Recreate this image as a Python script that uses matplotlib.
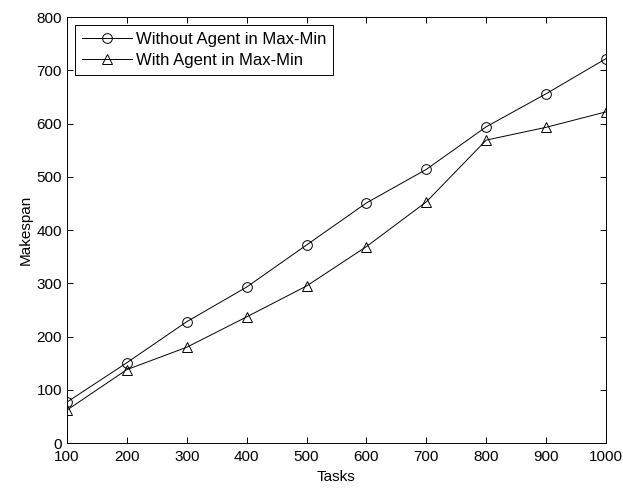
import matplotlib
matplotlib.use("Agg")
import matplotlib.pyplot as plt

plt.rcParams["font.family"] = ["Liberation Sans", "DejaVu Sans"]

tasks = [100, 200, 300, 400, 500, 600, 700, 800, 900, 1000]
without_agent = [77, 151, 228, 293, 372, 451, 514, 594, 656, 722]
with_agent = [62, 138, 180, 237, 295, 369, 453, 569, 593, 622]

fig = plt.figure(figsize=(6.23, 4.88), dpi=100)
ax = fig.add_axes([0.1075, 0.092, 0.8652, 0.873])

ax.plot(tasks, without_agent, "k-o", lw=0.7, ms=7, mfc="none", mew=0.7,
        label="Without Agent in Max-Min")
ax.plot(tasks, with_agent, "k-^", lw=0.7, ms=7.5, mfc="none", mew=0.7,
        label="With Agent in Max-Min")

ax.set_xlim(100, 1000)
ax.set_ylim(0, 800)
ax.set_xticks(range(100, 1001, 100))
ax.set_yticks(range(0, 801, 100))
ax.tick_params(direction="in", top=True, right=True, labelsize=11, length=4, width=0.7)
ax.tick_params(axis="x", pad=5)
for s in ax.spines.values():
    s.set_linewidth(0.7)

ax.set_xlabel("Tasks", fontsize=11, labelpad=4)
ax.set_ylabel("Makespan", fontsize=11, labelpad=3)

leg = ax.legend(loc="upper left", fontsize=12, fancybox=False, framealpha=1,
                edgecolor="black", borderaxespad=0.5, handlelength=3.0,
                labelspacing=0.35, borderpad=0.4, handletextpad=0.25)
leg.get_frame().set_linewidth(0.7)

fig.savefig("out.png", dpi=100)
